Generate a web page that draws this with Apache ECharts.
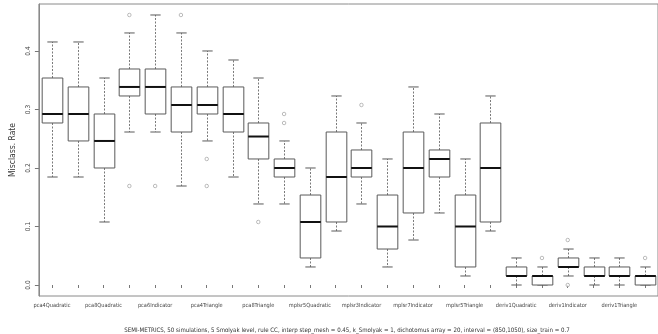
<!DOCTYPE html>
<html>
<head>
<meta charset="utf-8">
<script src="https://cdn.jsdelivr.net/npm/echarts@6/dist/echarts.min.js"></script>
<style>html,body{margin:0;padding:0;background:#fff;}#c{width:658px;height:334px;}</style>
</head>
<body>
<div id="c"></div>
<script>
const categories = ["pca4Quadratic","pca6Quadratic","pca8Quadratic","pca4Indicator","pca6Indicator","pca8Indicator",
  "pca4Triangle","pca6Triangle","pca8Triangle","mplsr3Quadratic","mplsr5Quadratic","mplsr7Quadratic",
  "mplsr3Indicator","mplsr5Indicator","mplsr7Indicator","mplsr3Triangle","mplsr5Triangle","mplsr7Triangle",
  "deriv1Quadratic","deriv2Quadratic","deriv1Indicator","deriv2Indicator","deriv1Triangle","deriv2Triangle"];
const lowerWhisker = [0.1846,0.1846,0.1077,0.2615,0.2615,0.1692,0.2462,0.1846,0.1385,0.1385,0.0308,0.0923,
  0.1385,0.0308,0.0769,0.1231,0.0154,0.0923,0,0,0.0154,0,0,0];
const q1 = [0.2769,0.2462,0.2,0.3231,0.2923,0.2615,0.2923,0.2615,0.2154,0.1846,0.0462,0.1077,
  0.1846,0.0615,0.1231,0.1846,0.0308,0.1077,0.0154,0,0.0308,0.0154,0.0154,0];
const median = [0.2923,0.2923,0.2462,0.3385,0.3385,0.3077,0.3077,0.2923,0.2538,0.2,0.1077,0.1846,
  0.2,0.1,0.2,0.2154,0.1,0.2,0.0154,0.0154,0.0308,0.0154,0.0154,0.0154];
const q3 = [0.3538,0.3385,0.2923,0.3692,0.3692,0.3385,0.3385,0.3385,0.2769,0.2154,0.1538,0.2615,
  0.2308,0.1538,0.2615,0.2308,0.1538,0.2769,0.0308,0.0154,0.0462,0.0308,0.0308,0.0154];
const upperWhisker = [0.4154,0.4154,0.3538,0.4308,0.4615,0.4308,0.4,0.3846,0.3538,0.2462,0.2,0.3231,
  0.2769,0.2154,0.3385,0.2923,0.2154,0.3231,0.0462,0.0308,0.0615,0.0462,0.0462,0.0308];
const outlierCategory = [3,3,4,5,6,6,8,9,9,12,19,20,20,23];
const outlierValue = [0.4615,0.1692,0.1692,0.4615,0.2154,0.1692,0.1077,0.2769,0.2923,0.3077,0.0462,0.0769,0,0.0462];
const yTicks = [0, 0.1, 0.2, 0.3, 0.4];
const yTickLabels = ["0.0","0.1","0.2","0.3","0.4"];
const yTitle = "Misclass. Rate";
const subTitle = "SEMI-METRICS, 50 simulations, 5 Smolyak level, rule CC, interp step_mesh = 0.45, k_Smolyak = 1, dichotomus array = 20, interval = (850,1050), size_train = 0.7";

const FONT = "'Liberation Sans Narrow', 'DejaVu Sans Condensed', 'Liberation Sans', sans-serif";
const YMIN = -0.0188, YMAX = 0.4803;

const boxData = categories.map((c, i) => [i, lowerWhisker[i], q1[i], median[i], q3[i], upperWhisker[i]]);
const outData = outlierCategory.map((c, i) => [c, outlierValue[i]]);

const chart = echarts.init(document.getElementById('c'), null, {renderer: 'canvas'});
chart.setOption({
  animation: false,
  backgroundColor: '#ffffff',
  title: {
    text: subTitle, left: 342, top: 322, textAlign: 'center',
    textStyle: {fontFamily: FONT, fontSize: 6.1, fontWeight: 'normal', color: '#333'}
  },
  grid: [
    {left: 34, right: -6, top: 4, bottom: 38, show: true, borderColor: '#8a8a8a', borderWidth: 1, backgroundColor: 'transparent'},
    {left: 39.1, right: -1.1, top: 4, bottom: 38}
  ],
  xAxis: [
    {gridIndex: 0, type: 'value', min: 0, max: 1, show: false},
    {gridIndex: 1, type: 'category', data: categories, boundaryGap: true,
     axisLine: {show: false},
     axisTick: {show: true, alignWithLabel: true, interval: 0, length: 3, lineStyle: {color: '#777'}},
     axisLabel: {interval: 1, margin: 7, fontSize: 5.6, fontFamily: FONT, color: '#444'},
     splitLine: {show: false}}
  ],
  yAxis: [
    {gridIndex: 0, type: 'value', min: YMIN, max: YMAX,
     name: yTitle, nameLocation: 'middle', nameGap: 16,
     nameTextStyle: {fontFamily: FONT, fontSize: 8.5, color: '#333'},
     axisLine: {show: true, lineStyle: {color: '#8a8a8a'}},
     axisTick: {show: true, length: 4, customValues: yTicks, lineStyle: {color: '#777'}},
     axisLabel: {rotate: 90, margin: 7, fontSize: 6.5, fontFamily: FONT, color: '#444',
       customValues: yTicks,
       formatter: v => { const i = yTicks.findIndex(t => Math.abs(t - v) < 1e-9); return i >= 0 ? yTickLabels[i] : ''; }},
     splitLine: {show: false}},
    {gridIndex: 1, type: 'value', min: YMIN, max: YMAX, show: false, splitLine: {show: false}}
  ],
  series: [
    {
      type: 'custom', xAxisIndex: 1, yAxisIndex: 1, data: boxData,
      renderItem: function (params, api) {
        const x = api.value(0);
        const pLo = api.coord([x, api.value(1)]);
        const pQ1 = api.coord([x, api.value(2)]);
        const pMd = api.coord([x, api.value(3)]);
        const pQ3 = api.coord([x, api.value(4)]);
        const pHi = api.coord([x, api.value(5)]);
        const bw = api.size([1, 0])[0] * 0.8;
        const cx = Math.round(pMd[0]) + 0.5;
        const boxStroke = '#5a5a5a';
        const whisk = {stroke: '#7a7a7a', lineWidth: 1, lineDash: [2, 1.5]};
        const cap = {stroke: '#5a5a5a', lineWidth: 1};
        return {
          type: 'group',
          children: [
            {type: 'line', shape: {x1: cx, y1: pQ3[1], x2: cx, y2: pHi[1]}, style: whisk},
            {type: 'line', shape: {x1: cx, y1: pQ1[1], x2: cx, y2: pLo[1]}, style: whisk},
            {type: 'line', shape: {x1: cx - bw / 4, y1: pHi[1], x2: cx + bw / 4, y2: pHi[1]}, style: cap},
            {type: 'line', shape: {x1: cx - bw / 4, y1: pLo[1], x2: cx + bw / 4, y2: pLo[1]}, style: cap},
            {type: 'rect', shape: {x: cx - bw / 2, y: pQ3[1], width: bw, height: pQ1[1] - pQ3[1]},
             style: {fill: '#ffffff', stroke: boxStroke, lineWidth: 1}},
            {type: 'line', shape: {x1: cx - bw / 2, y1: pMd[1], x2: cx + bw / 2, y2: pMd[1]},
             style: {stroke: '#111111', lineWidth: 2}}
          ]
        };
      }
    },
    {
      type: 'scatter', xAxisIndex: 1, yAxisIndex: 1, data: outData,
      symbol: 'circle', symbolSize: 3.5,
      itemStyle: {color: '#ffffff', borderColor: '#888888', borderWidth: 0.7}
    }
  ]
});
</script>
</body>
</html>
